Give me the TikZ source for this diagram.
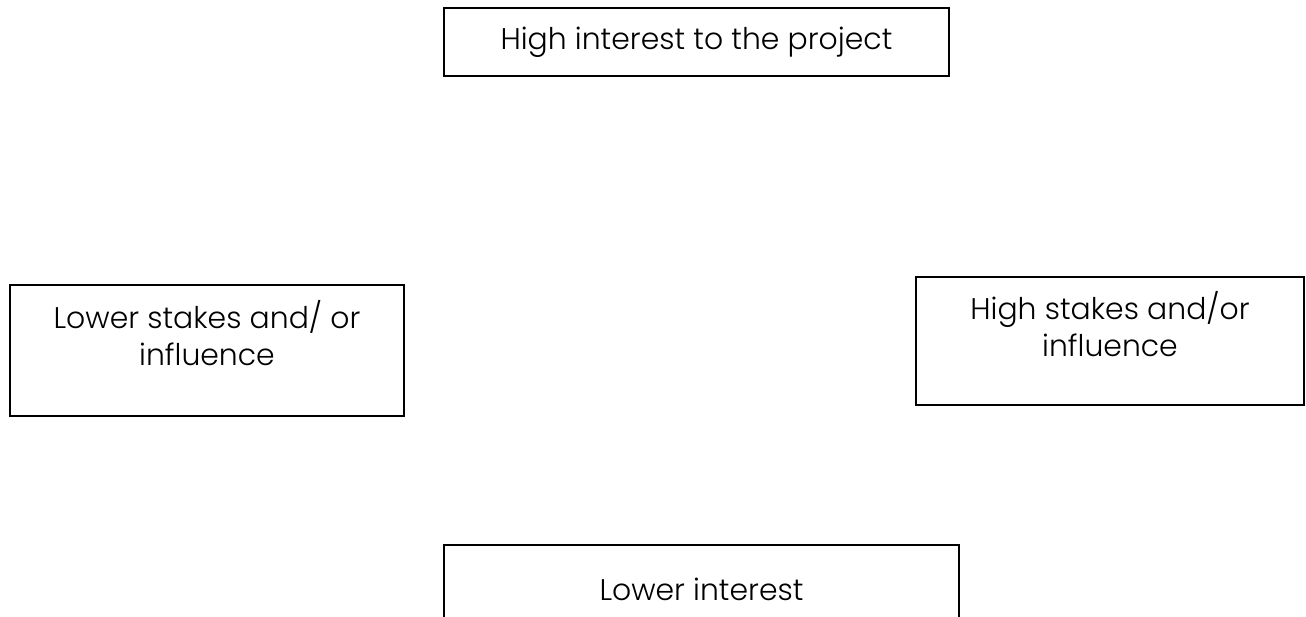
\documentclass[tikz,border=0pt]{standalone}
\usepackage{fontspec}
\setmainfont{Poppins}[UprightFont={* Light}]
\usetikzlibrary{positioning}

\begin{document}
\begin{tikzpicture}[semithick,align=center,every node/.style={font=\fontsize{17}{21}\selectfont},
  box/.style={draw,anchor=north west,inner sep=0pt,outer sep=0pt}]
\useasboundingbox (0,0) rectangle (26.12,-12.32);
% boxes
\node (highint) [box,minimum width=10.1cm,minimum height=1.36cm] at (8.88,-0.16) {High interest to the project};
\node (lowbox) [box,minimum width=7.88cm,minimum height=2.62cm] at (0.2,-5.7) {};
\node (highbox) [box,minimum width=7.76cm,minimum height=2.56cm] at (18.32,-5.54) {};
\node (lowint) [box,minimum width=10.3cm,minimum height=1.6cm] at (8.88,-10.9) {};
% texts
\node (lowtxt) [below=0.3cm of lowbox.north,inner sep=0pt] {Lower stakes and/ or\\influence};
\node (hightxt) [below=0.28cm of highbox.north,inner sep=0pt] {High stakes and/or\\influence};
\node (lowinttxt) [below=0.64cm of lowint.north,inner sep=0pt] {Lower interest};
\end{tikzpicture}
\end{document}
